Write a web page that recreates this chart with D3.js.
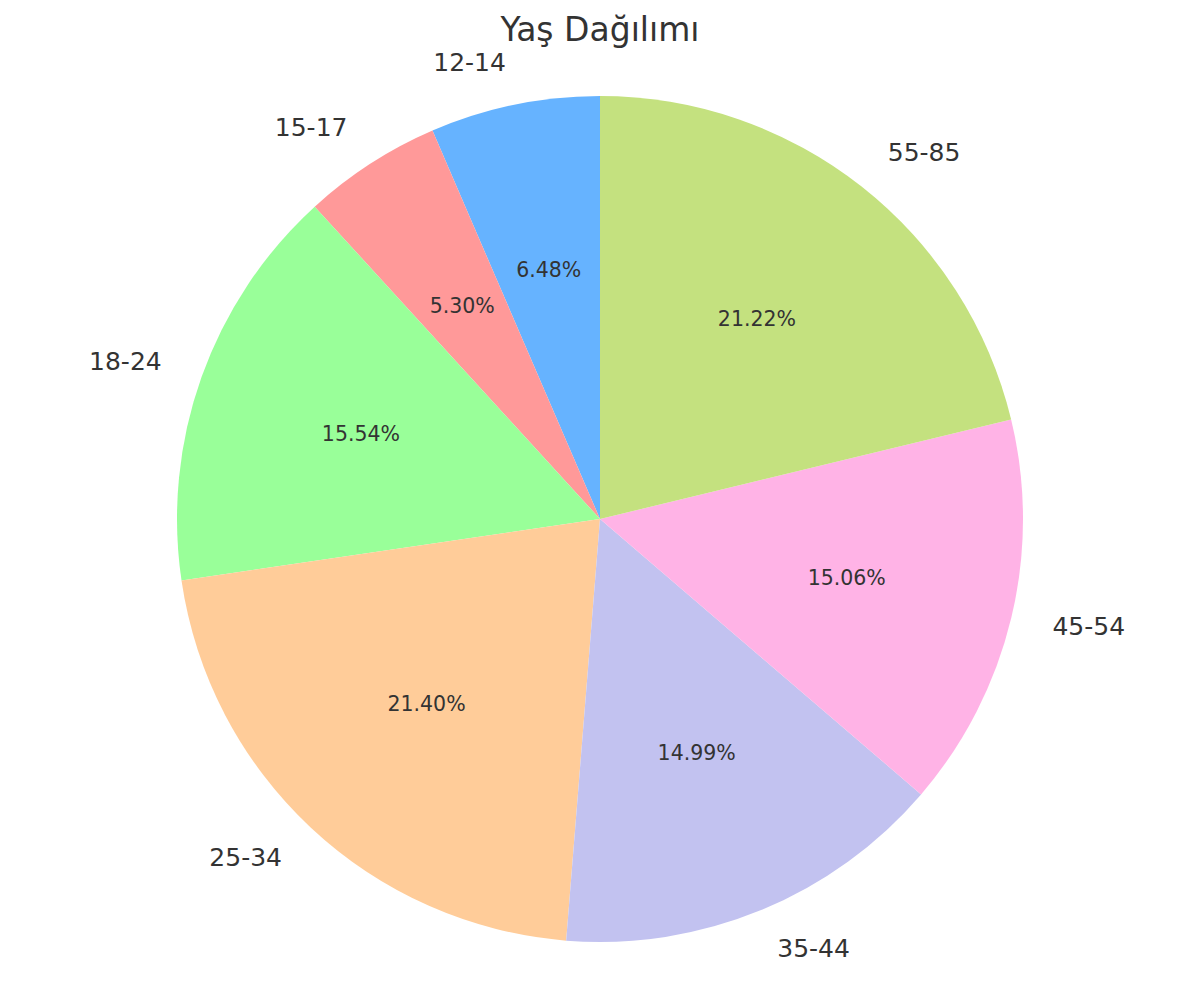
<!DOCTYPE html>
<html><head><meta charset="utf-8">
<script src="https://cdn.jsdelivr.net/npm/d3@7"></script>
<style>body{margin:0;background:#fff}svg{display:block}text{font-family:"DejaVu Sans",sans-serif;fill:#333}</style>
</head><body>
<script>
const categories = ["12-14","15-17","18-24","25-34","35-44","45-54","55-85"];
const values = [6.48,5.30,15.54,21.40,14.99,15.06,21.22];
const colors = ["#66b3ff","#ff9999","#99ff99","#ffcc99","#c2c2f0","#ffb3e6","#c4e17f"];
const title = "Yaş Dağılımı";

const W=1200,H=1000,cx=600,cy=519,R=423;
const svg=d3.select("body").append("svg").attr("width",W).attr("height",H);
svg.append("text").attr("x",600).attr("y",41).attr("text-anchor","middle").attr("font-size",33).text(title);

const data=categories.map((c,i)=>({c,v:values[i],col:colors[i]}));
const pie=d3.pie().value(d=>d.v).sort(null).startAngle(0).endAngle(-2*Math.PI);
const arcs=pie(data);
const arc=d3.arc().innerRadius(0).outerRadius(R);
const g=svg.append("g").attr("transform",`translate(${cx},${cy})`);
g.selectAll("path").data(arcs).join("path").attr("d",arc).attr("fill",d=>d.data.col);
arcs.forEach(a=>{
  const m=(a.startAngle+a.endAngle)/2;
  const x=Math.sin(m), y=-Math.cos(m);
  const lx=1.1*R*x, ly=1.1*R*y;
  g.append("text").attr("x",lx).attr("y",ly).attr("dy","0.3em")
   .attr("text-anchor",x>0?"start":"end").attr("font-size",25).text(a.data.c);
  g.append("text").attr("x",0.6*R*x).attr("y",0.6*R*y).attr("dy","0.33em")
   .attr("text-anchor","middle").attr("font-size",20.5).text(a.data.v.toFixed(2)+"%");
});
</script>
</body></html>
